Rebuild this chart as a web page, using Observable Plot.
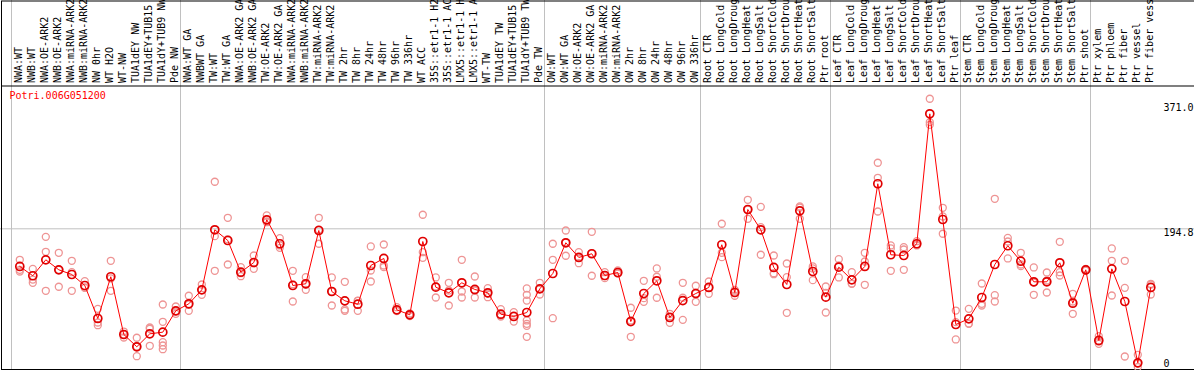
<!DOCTYPE html>
<html><head><meta charset="utf-8">
<script src="https://cdn.jsdelivr.net/npm/d3@7"></script>
<script src="https://cdn.jsdelivr.net/npm/@observablehq/plot@0.6"></script>
<style>
html,body{margin:0;padding:0;background:#fff;}
#chart svg{display:block;}
</style></head><body><div id="chart"></div>
<script>
const geneId = "Potri.006G051200";

const labels = [
  "NWA:WT","NWB:WT","NWA:OE-ARK2","NWB:OE-ARK2","NWA:miRNA-ARK2","NWB:miRNA-ARK2","NW 0hr","WT H2O","WT-NW","TUA1dEY NW","TUA1dEY+TUB15","TUA1dY+TUB9 NW","Pde NW",
  "NWA:WT GA","NWBWT GA","TW:WT","TW:WT GA","NWA:OE-ARK2 GA","NWB:OE-ARK2 GA","TW:OE-ARK2","TW:OE-ARK2 GA","NWA:miRNA-ARK2 GA","NWB:miRNA-ARK2 GA","TW:miRNA-ARK2","TW:miRNA-ARK2","TW 2hr","TW 8hr","TW 24hr","TW 48hr","TW 96hr","TW 336hr","WT ACC","35S::etr1-1 H2O","35S::etr1-1 ACC","LMX5::etr1-1 H2O","LMX5::etr1-1 ACC","WT-TW","TUA1dEY TW","TUA1dEY+TUB15","TUA1dY+TUB9 TW","Pde TW",
  "OW:WT","OW:WT GA","OW:OE-ARK2","OW:OE-ARK2 GA","OW:miRNA-ARK2","OW:miRNA-ARK2","OW 2hr","OW 8hr","OW 24hr","OW 48hr","OW 96hr","OW 336hr",
  "Root CTR","Root LongCold","Root LongDrought","Root LongHeat","Root LongSalt","Root ShortCold","Root ShortDrought","Root ShortHeat","Root ShortSalt","Ptr root",
  "Leaf CTR","Leaf LongCold","Leaf LongDrought","Leaf LongHeat","Leaf LongSalt","Leaf ShortCold","Leaf ShortDrought","Leaf ShortHeat","Leaf ShortSalt","Ptr leaf",
  "Stem CTR","Stem LongCold","Stem LongDrought","Stem LongHeat","Stem LongSalt","Stem ShortCold","Stem ShortDrought","Stem ShortHeat","Stem ShortSalt","Ptr shoot","Ptr xylem",
  "Ptr phloem","Ptr fiber","Ptr vessel","Ptr fiber vessel"
];

const groupSizes = [13, 28, 12, 10, 10, 10, 11, 1, 1, 1, 1];

const means = [
  141.7,128.6,151.1,137.0,130.4,114.9,68.4,127.2,45.8,28.5,46.8,49.1,79.2,
  89.1,108.8,193.4,178.3,133.6,147.3,207.5,173.7,114.9,117.3,192.4,106.4,93.3,88.5,143.1,153.0,80.6,73.6,176.9,112.5,104.6,118.7,109.3,104.6,74.4,71.2,76.8,110.2,131.8,
  175.1,154.4,159.6,129.0,133.2,64.1,103.6,121.5,69.8,93.7,103.6,112.1,
  172.3,105.0,222.0,193.4,140.3,116.3,220.2,134.6,98.4,140.7,
  122.9,141.7,258.3,158.2,157.2,173.7,356.9,207.9,59.9,67.9,
  98.0,144.5,170.9,149.1,120.1,120.1,146.9,89.9,137.0,37.4,138.4,
  92.3,5.9,112.1
];

const replicates = [
  [151.1,137.0,134.6],[138.4,123.3,118.7],[183.5,162.4,107.4],[161.0,137.0,113.1],[149.7,133.6,107.4],
  [121.0,111.6,112.1],[82.0,62.7,58.9],[149.7,107.4,124.8],[50.0,45.8,41.6],[41.2,15.2,28.9],
  [55.7,53.9,29.9],[88.1,63.7,35.0,30.3,25.1],[85.3,75.0,78.2],
  [100.4,79.2,88.1],[116.3,101.8,108.3],[261.1,184.4,135.6],[210.3,144.5,180.2],[140.7,128.0,132.2],
  [157.2,138.4,146.3],[213.6,204.1,205.1],[181.6,168.0,171.3],[135.6,92.3,116.7],[126.6,108.8,116.3],
  [210.3,173.7,193.8],[126.2,86.7,106.4],[120.1,81.1,79.2],[93.3,79.2,93.7],[169.9,136.0,120.5],
  [172.7,143.1,140.7],[84.3,78.7,79.6],[75.4,73.6,71.9],[214.6,161.8,153.9],[126.2,98.0,113.5],
  [118.7,86.7,107.8],[151.1,106.4,98.0],[127.6,98.0,107.8],[111.1,98.4,103.6],[81.5,72.6,71.2],
  [77.3,64.1,72.6],[110.7,101.8,93.7,65.6,60.9,58.1,42.6],[118.7,102.2,109.7],[173.7,151.1,68.8],
  [192.4,156.8,175.5],[161.8,146.3,154.4],[190.6,128.6,160.0],[133.6,125.2,128.0],[136.0,132.2,131.8],
  [83.5,42.6,65.6],[121.5,97.0,91.9],[138.9,127.2,97.6],[75.0,62.3,71.2],[118.7,97.6,66.5],
  [114.5,91.9,103.6],[120.5,103.2,112.1],
  [201.9,161.0,154.8],[108.8,100.4,106.4],[235.7,208.9,222.0],[225.8,197.1,158.2],[157.2,132.2,130.8],
  [145.9,126.6,76.4],[226.3,208.9,224.8],[141.7,122.4,138.9],[113.5,104.6,76.8],[152.0,126.2,143.1],
  [133.6,117.3,117.7],[161.0,115.9,148.7],[287.9,266.7,219.2],[171.3,135.6,167.1],[168.9,137.0,165.6],
  [177.3,171.3,172.7],[378.1,345.1,341.4],[224.4,187.8,212.2],[79.6,63.2,38.8],[82.0,60.9,61.3],
  [117.7,89.1,86.7],[237.1,101.2,92.3],[182.1,153.0,176.9],[161.0,142.1,144.5],[140.3,101.8,119.1],
  [133.2,105.0,121.9],[176.5,133.6,129.0],[103.2,75.0,92.3],[138.4,136.0,136.0],[43.4,32.7,35.9],
  [167.1,149.7,100.8],[149.7,111.6,14.8],[17.2,0,4.9],[117.3,102.2,116.3]
];

const yTicks = [0, 194.8, 371.0];
const yTickLabels = ["0", "194.8", "371.0"];

// ---- build tables ----
const cols = labels.map((label, i) => ({i, label, mean: means[i]}));
const reps = replicates.flatMap((vals, i) => vals.map(v => ({i, v})));
const bounds = Array.from(d3.cumsum([0, ...groupSizes]));
const ticks = yTicks.map((v, k) => ({v, label: yTickLabels[k]}));

const font = "'DejaVu Sans Mono', monospace";

const chart = Plot.plot({
  width: 1194,
  height: 370,
  marginTop: 86,
  marginBottom: 0,
  marginLeft: 0,
  marginRight: 0,
  style: {fontFamily: font, fontSize: "10px", background: "white", overflow: "visible"},
  x: {type: "linear", domain: [0, labels.length - 1], range: [19.3, 1150.3], axis: null},
  y: {type: "linear", domain: [0, 371], range: [366.5, 103.3], axis: null},
  marks: [
    Plot.ruleX(bounds, {x: d => d, dx: -8.3, stroke: "#c0c0c0", strokeWidth: 1, insetTop: -86}),
    Plot.ruleY([yTicks[1]], {y: d => d, stroke: "#c0c0c0", strokeWidth: 1}),
    Plot.frame({stroke: "black", insetTop: -85.5, insetLeft: 1, insetBottom: 1, insetRight: -2}),
    Plot.frame({stroke: "black", insetTop: -0.5, insetLeft: 1, insetBottom: 1, insetRight: -2}),
    Plot.text(cols, {
      x: "i", text: "label", frameAnchor: "top", dy: -3.5, dx: -1.5,
      rotate: -90, textAnchor: "start", lineAnchor: "middle",
      fontSize: 10, fill: "black"
    }),
    Plot.text([geneId], {
      frameAnchor: "top-left", dx: 9, dy: 5, textAnchor: "start", lineAnchor: "top",
      fill: "red", fontSize: 10
    }),
    Plot.text(ticks.filter(d => d.v > 0), {
      y: "v", text: "label", frameAnchor: "right", dx: -31,
      textAnchor: "start", lineAnchor: "top", fill: "black", fontSize: 10
    }),
    Plot.text(ticks.filter(d => d.v === 0), {
      y: "v", text: "label", frameAnchor: "right", dx: -31,
      textAnchor: "start", lineAnchor: "bottom", fill: "black", fontSize: 10
    }),
    Plot.dot(reps, {x: "i", y: "v", r: 3.5, stroke: "#ee9494", strokeWidth: 1.3, fill: "none"}),
    Plot.line(cols, {x: "i", y: "mean", stroke: "#ff0000", strokeWidth: 1}),
    Plot.dot(cols, {x: "i", y: "mean", r: 4, stroke: "#e00000", strokeWidth: 1.7, fill: "none"})
  ]
});

document.getElementById("chart").appendChild(chart);
</script>
</body></html>
